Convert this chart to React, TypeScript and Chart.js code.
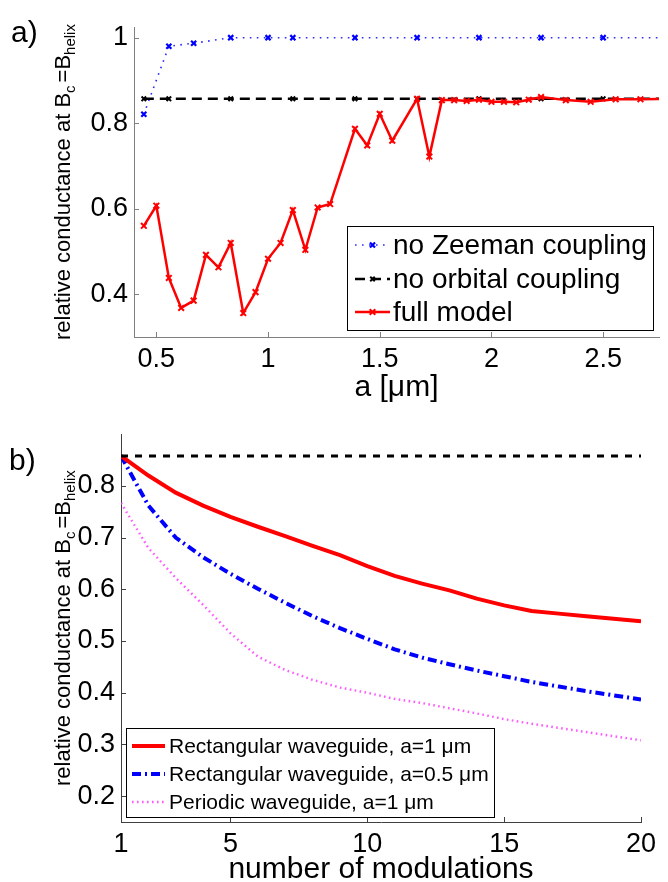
import { useEffect, useRef } from "react";
import { Chart, registerables } from "chart.js";

Chart.register(...registerables);

const FONT = "'Liberation Sans', Arial, Helvetica, sans-serif";

// ---- Panel a): relative conductance vs. modulation length a [um] ----
const zeemanA = [0.444, 0.556, 0.667, 0.833, 1.0, 1.111, 1.389, 1.667, 1.944, 2.222, 2.5, 2.778];
const zeemanG = [0.821, 0.98, 0.987, 1.0, 1.0, 1.0, 1.0, 1.0, 1.0, 1.0, 1.0, 1.0];

const orbitalA = [0.444, 0.556, 0.833, 1.111, 1.389, 1.667, 1.944, 2.222, 2.5, 2.778];
const orbitalG = [0.857, 0.857, 0.857, 0.857, 0.857, 0.857, 0.857, 0.857, 0.857, 0.857];

const fullA = [
  0.444, 0.5, 0.556, 0.611, 0.667, 0.722, 0.778, 0.833, 0.889, 0.944,
  1.0, 1.056, 1.111, 1.167, 1.222, 1.278, 1.389, 1.444, 1.5, 1.556,
  1.667, 1.722, 1.778, 1.833, 1.889, 1.944, 2.0, 2.056, 2.111, 2.167,
  2.222, 2.333, 2.444, 2.556, 2.667, 2.778,
];
const fullG = [
  0.56, 0.607, 0.438, 0.368, 0.385, 0.492, 0.463, 0.52, 0.356, 0.405,
  0.483, 0.52, 0.597, 0.504, 0.603, 0.611, 0.787, 0.748, 0.822, 0.759,
  0.857, 0.722, 0.854, 0.854, 0.852, 0.855, 0.85, 0.85, 0.849, 0.855,
  0.861, 0.854, 0.85, 0.856, 0.856, 0.857,
];

const aTicks = [0.5, 1, 1.5, 2, 2.5];
const gTicksA = [0.4, 0.6, 0.8, 1];

// ---- Panel b): relative conductance vs. number of modulations ----
const modulations = [1, 2, 3, 4, 5, 6, 7, 8, 9, 10, 11, 12, 13, 14, 15, 16, 17, 18, 19, 20];
const rectA1 = [
  0.858, 0.82, 0.787, 0.762, 0.74, 0.721, 0.703, 0.684, 0.666, 0.645,
  0.626, 0.611, 0.598, 0.582, 0.569, 0.558, 0.553, 0.548, 0.543, 0.538,
];
const rectA05 = [
  0.858, 0.762, 0.7, 0.662, 0.63, 0.601, 0.574, 0.548, 0.525, 0.504,
  0.484, 0.468, 0.455, 0.443, 0.432, 0.421, 0.412, 0.403, 0.395, 0.387,
];
const periodicA1 = [
  0.767, 0.68, 0.622, 0.57, 0.515, 0.47, 0.444, 0.425, 0.41, 0.4,
  0.388, 0.38, 0.37, 0.36, 0.349, 0.34, 0.332, 0.324, 0.316, 0.308,
];
const noOrbitalB = [
  0.858, 0.858, 0.858, 0.858, 0.858, 0.858, 0.858, 0.858, 0.858, 0.858,
  0.858, 0.858, 0.858, 0.858, 0.858, 0.858, 0.858, 0.858, 0.858, 0.858,
];

const nTicks = [1, 5, 10, 15, 20];
const gTicksB = [0.2, 0.3, 0.4, 0.5, 0.6, 0.7, 0.8];

const xy = (xs: number[], ys: number[]) => xs.map((x, i) => ({ x, y: ys[i] }));

// Matlab-style tick marks pointing into the plot area
const inwardTicks = {
  id: "inwardTicks",
  afterDatasetsDraw(chart: any, _args: any, opts: any) {
    const { ctx, chartArea, scales } = chart;
    const len = opts.length ?? 5;
    ctx.save();
    ctx.strokeStyle = opts.color;
    ctx.lineWidth = 1;
    ctx.beginPath();
    for (const t of scales.x.ticks) {
      const px = Math.round(scales.x.getPixelForValue(t.value)) + 0.5;
      ctx.moveTo(px, chartArea.bottom);
      ctx.lineTo(px, chartArea.bottom - len);
    }
    for (const t of scales.y.ticks) {
      const py = Math.round(scales.y.getPixelForValue(t.value)) + 0.5;
      ctx.moveTo(chartArea.left, py);
      ctx.lineTo(chartArea.left + len, py);
    }
    ctx.stroke();
    ctx.restore();
  },
};

// Rotated y-axis title with subscripts: "relative conductance at B_c=B_helix"
const yTitle = {
  id: "yTitle",
  afterDraw(chart: any, _args: any, opts: any) {
    const { ctx, chartArea } = chart;
    const big = `${opts.size}px ${FONT}`;
    const small = `${opts.subSize}px ${FONT}`;
    const parts: [string, string, number, number][] = [
      ["relative conductance at B", big, 0, 0],
      ["c", small, opts.subShift, 3],
      ["=B", big, 0, 0],
      ["helix", small, opts.subShift, 0],
    ];
    let total = 0;
    for (const [t, f, , gap] of parts) {
      ctx.font = f;
      total += ctx.measureText(t).width + gap;
    }
    const cy = (chartArea.top + chartArea.bottom) / 2 + (opts.dy ?? 0);
    ctx.save();
    ctx.translate(opts.x, cy);
    ctx.rotate(-Math.PI / 2);
    ctx.fillStyle = "#000";
    ctx.textBaseline = "alphabetic";
    ctx.textAlign = "left";
    let x = -total / 2;
    for (const [t, f, shift, gap] of parts) {
      ctx.font = f;
      ctx.fillText(t, x, shift);
      x += ctx.measureText(t).width + gap;
    }
    ctx.restore();
  },
};

// Panel letter in the upper-left corner
const panelLabel = {
  id: "panelLabel",
  afterDraw(chart: any, _args: any, opts: any) {
    const { ctx } = chart;
    ctx.save();
    ctx.font = `${opts.size}px ${FONT}`;
    ctx.fillStyle = "#000";
    ctx.textBaseline = "alphabetic";
    ctx.textAlign = "left";
    ctx.fillText(opts.text, opts.x, opts.y);
    ctx.restore();
  },
};

function crossMark(ctx: CanvasRenderingContext2D, x: number, y: number, r: number) {
  const o = r * Math.SQRT1_2;
  ctx.beginPath();
  ctx.moveTo(x - o, y - o);
  ctx.lineTo(x + o, y + o);
  ctx.moveTo(x - o, y + o);
  ctx.lineTo(x + o, y - o);
  ctx.stroke();
}

// Boxed legend drawn inside the axes, using each dataset's own line style
const boxLegend = {
  id: "boxLegend",
  afterDraw(chart: any, _args: any, opts: any) {
    const { ctx } = chart;
    const { box, rows, lineX, textX, size } = opts;
    ctx.save();
    ctx.fillStyle = "#fff";
    ctx.fillRect(box.x, box.y, box.w, box.h);
    ctx.strokeStyle = "#000";
    ctx.lineWidth = 1;
    ctx.strokeRect(box.x + 0.5, box.y + 0.5, box.w, box.h);
    ctx.font = `${size}px ${FONT}`;
    ctx.textBaseline = "middle";
    ctx.textAlign = "left";
    opts.items.forEach((idx: number, i: number) => {
      const ds = chart.data.datasets[idx];
      const y = rows[i];
      ctx.save();
      ctx.strokeStyle = ds.borderColor;
      ctx.lineWidth = ds.borderWidth;
      ctx.setLineDash(ds.borderDash || []);
      ctx.beginPath();
      ctx.moveTo(lineX[0], y);
      ctx.lineTo(lineX[1], y);
      ctx.stroke();
      ctx.setLineDash([]);
      if (ds.pointRadius > 0) {
        ctx.strokeStyle = ds.pointBorderColor;
        ctx.lineWidth = ds.pointBorderWidth;
        crossMark(ctx, (lineX[0] + lineX[1]) / 2, y, ds.pointRadius);
      }
      ctx.restore();
      ctx.fillStyle = "#000";
      ctx.fillText(ds.label, textX, y + 1);
    });
    ctx.restore();
  },
};

function makeScale(opts: {
  min: number;
  max: number;
  ticks: number[];
  color: string;
  fit: (s: any) => void;
  title?: any;
  padding: number;
}) {
  return {
    type: "linear" as const,
    min: opts.min,
    max: opts.max,
    afterBuildTicks: (scale: any) => {
      scale.ticks = opts.ticks.map((value) => ({ value }));
    },
    afterFit: opts.fit,
    ticks: {
      font: { family: FONT, size: 27 },
      color: "#000",
      padding: opts.padding,
      autoSkip: false,
      maxRotation: 0,
      callback: (v: any) => String(v),
    },
    grid: { display: false, drawTicks: false, drawOnChartArea: false },
    border: { display: true, color: opts.color, width: 1 },
    title: opts.title ?? { display: false },
  };
}

function PanelA() {
  const ref = useRef<HTMLCanvasElement>(null);
  useEffect(() => {
    const axisColor = "#808080";
    const chart = new Chart(ref.current!, {
      type: "line",
      data: {
        datasets: [
          {
            label: "no Zeeman coupling",
            data: xy(zeemanA, zeemanG),
            borderColor: "rgba(20,20,255,0.9)",
            borderWidth: 1.6,
            borderDash: [1.6, 5.4],
            pointStyle: "crossRot",
            pointRadius: 3.6,
            pointBorderWidth: 2.2,
            pointBorderColor: "#0000ff",
            order: 2,
          },
          {
            label: "no orbital coupling",
            data: xy(orbitalA, orbitalG),
            borderColor: "#000",
            borderWidth: 2.5,
            borderDash: [10, 6],
            pointStyle: "crossRot",
            pointRadius: 3.2,
            pointBorderWidth: 2,
            pointBorderColor: "#000",
            order: 1,
          },
          {
            label: "full model",
            data: xy(fullA, fullG),
            borderColor: "#ff0000",
            borderWidth: 2.5,
            pointStyle: "crossRot",
            pointRadius: 4,
            pointBorderWidth: 2,
            pointBorderColor: "#ff0000",
            order: 0,
          },
        ],
      },
      options: {
        responsive: false,
        maintainAspectRatio: false,
        animation: false,
        events: [],
        layout: { padding: { top: 27, right: 9, left: 0, bottom: 0 } },
        elements: { line: { tension: 0, fill: false }, point: { backgroundColor: "transparent" } },
        datasets: { line: { clip: 0 } } as any,
        scales: {
          x: makeScale({
            min: 0.4,
            max: 2.75,
            ticks: aTicks,
            color: axisColor,
            padding: 6,
            fit: (s: any) => {
              s.height = 75;
            },
            title: {
              display: true,
              text: "a [\u03bcm]",
              color: "#000",
              font: { family: FONT, size: 30, lineHeight: 1 },
              padding: { top: 0, bottom: 9 },
            },
          }),
          y: makeScale({
            min: 0.3,
            max: 1.025,
            ticks: gTicksA,
            color: axisColor,
            padding: 6,
            fit: (s: any) => {
              s.width = 134;
            },
          }),
        },
        plugins: {
          legend: { display: false },
          tooltip: { enabled: false },
          inwardTicks: { color: axisColor, length: 5 },
          yTitle: { x: 70, size: 22, subSize: 15, subShift: 5 },
          panelLabel: { text: "a)", x: 11, y: 42, size: 30 },
          boxLegend: {
            box: { x: 347, y: 226, w: 306, h: 104 },
            rows: [245, 279, 312],
            lineX: [355, 390],
            textX: 393,
            size: 28,
            items: [0, 1, 2],
          },
        } as any,
      },
      plugins: [inwardTicks, yTitle, panelLabel, boxLegend],
    });
    return () => chart.destroy();
  }, []);
  return (
    <canvas
      ref={ref}
      width={668}
      height={412}
      style={{ position: "absolute", left: 0, top: 0, width: 668, height: 412 }}
    />
  );
}

function PanelB() {
  const ref = useRef<HTMLCanvasElement>(null);
  useEffect(() => {
    const axisColor = "#404040";
    const chart = new Chart(ref.current!, {
      type: "line",
      data: {
        labels: modulations,
        datasets: [
          {
            label: "Rectangular waveguide, a=1 \u03bcm",
            data: xy(modulations, rectA1),
            borderColor: "#ff0000",
            borderWidth: 4,
            pointRadius: 0,
            order: 1,
          },
          {
            label: "Rectangular waveguide, a=0.5 \u03bcm",
            data: xy(modulations, rectA05),
            borderColor: "#0000ff",
            borderWidth: 4,
            borderDash: [9, 4, 2, 4],
            pointRadius: 0,
            order: 2,
          },
          {
            label: "Periodic waveguide, a=1 \u03bcm",
            data: xy(modulations, periodicA1),
            borderColor: "rgba(255,60,255,0.85)",
            borderWidth: 2.4,
            borderDash: [1.6, 3.4],
            pointRadius: 0,
            order: 3,
          },
          {
            label: "no orbital coupling",
            data: xy(modulations, noOrbitalB),
            borderColor: "#000",
            borderWidth: 3,
            borderDash: [7, 7],
            pointRadius: 0,
            order: 0,
          },
        ],
      },
      options: {
        responsive: false,
        maintainAspectRatio: false,
        animation: false,
        events: [],
        layout: { padding: { top: 9, right: 27, left: 0, bottom: 0 } },
        elements: { line: { tension: 0, fill: false } },
        datasets: { line: { clip: 0 } } as any,
        scales: {
          x: makeScale({
            min: 1,
            max: 20,
            ticks: nTicks,
            color: axisColor,
            padding: 6,
            fit: (s: any) => {
              s.height = 60;
            },
            title: {
              display: true,
              text: "number of modulations",
              color: "#000",
              font: { family: FONT, size: 30, lineHeight: 1 },
              padding: { top: 0, bottom: -3 },
            },
          }),
          y: makeScale({
            min: 0.15,
            max: 0.9,
            ticks: gTicksB,
            color: axisColor,
            padding: 6,
            fit: (s: any) => {
              s.width = 121;
            },
          }),
        },
        plugins: {
          legend: { display: false },
          tooltip: { enabled: false },
          inwardTicks: { color: axisColor, length: 5 },
          yTitle: { x: 70, size: 22, subSize: 15, subShift: 5 },
          panelLabel: { text: "b)", x: 9, y: 58, size: 30 },
          boxLegend: {
            box: { x: 126, y: 316, w: 368, h: 89 },
            rows: [334, 362, 390],
            lineX: [132, 165],
            textX: 169,
            size: 21,
            items: [0, 1, 2],
          },
        } as any,
      },
      plugins: [inwardTicks, yTitle, panelLabel, boxLegend],
    });
    return () => chart.destroy();
  }, []);
  return (
    <canvas
      ref={ref}
      width={668}
      height={470}
      style={{ position: "absolute", left: 0, top: 412, width: 668, height: 470 }}
    />
  );
}

export default function App() {
  return (
    <div style={{ position: "absolute", left: 0, top: 0, width: 668, height: 882, background: "#fff" }}>
      <PanelA />
      <PanelB />
    </div>
  );
}
